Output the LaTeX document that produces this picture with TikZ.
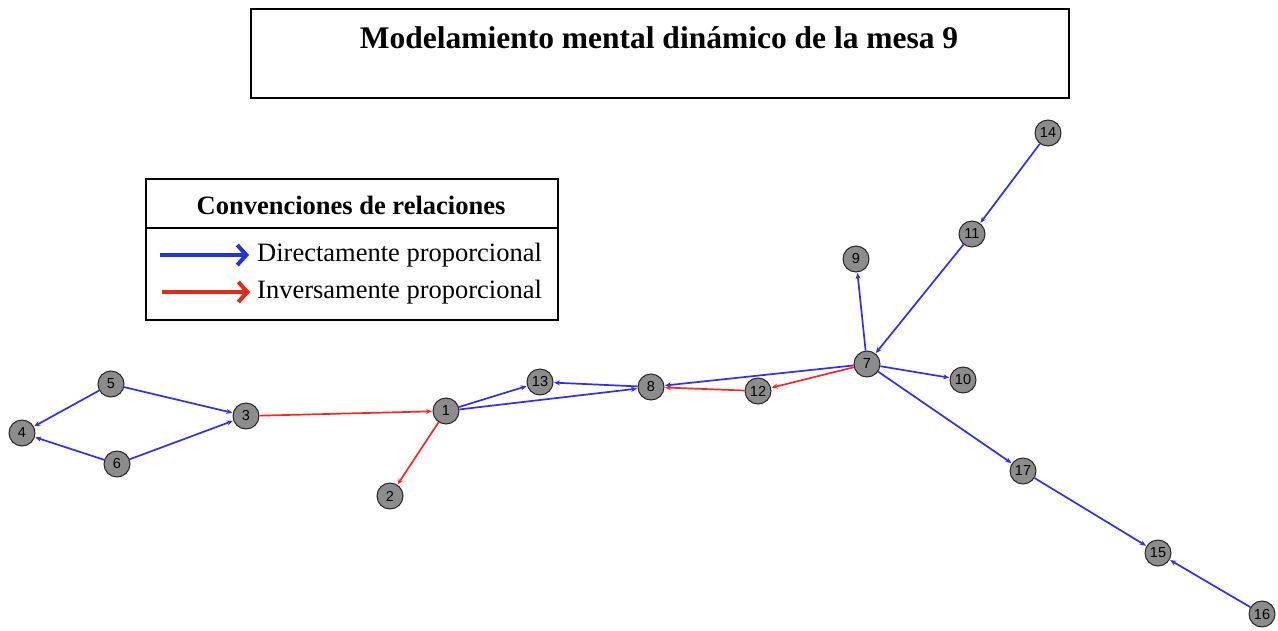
\documentclass[tikz,border=0pt]{standalone}
\usepackage{fontspec}
\setmainfont{Liberation Serif}
\newfontfamily\nodefont{Liberation Sans}
\usetikzlibrary{arrows.meta}
\definecolor{edgeblue}{RGB}{45,45,255}
\definecolor{edgered}{RGB}{255,35,35}
\definecolor{legblue}{RGB}{30,50,230}
\definecolor{legred}{RGB}{230,40,20}
\definecolor{nodegray}{RGB}{140,140,140}
\tikzset{
  vert/.style={circle,draw=black!85,line width=1pt,fill=nodegray,minimum size=26pt,inner sep=0pt,font=\nodefont\fontsize{14.5}{14.5}\selectfont},
  posrel/.style={draw=edgeblue,line width=1.7pt,-{Stealth[length=6pt,width=5pt]},shorten >=0.5pt},
  negrel/.style={draw=edgered,line width=1.7pt,-{Stealth[length=6pt,width=5pt]},shorten >=0.5pt},
  frame/.style={draw=black,line width=2pt}
}
\begin{document}
\begin{tikzpicture}[x=1pt,y=-1pt]
\useasboundingbox (0,0) rectangle (1278,630);
% title
\node[frame,minimum width=818pt,minimum height=89pt,anchor=north west,inner sep=0pt] (titlebox) at (250,8) {};
\node[font=\bfseries\fontsize{31.5}{31.5}\selectfont] (title) at (659,38) {Modelamiento mental dinámico de la mesa 9};
% legend
\node[frame,minimum width=412pt,minimum height=141pt,anchor=north west,inner sep=0pt] (legbox) at (145,178) {};
\coordinate (divl) at (145,228);
\coordinate (divr) at (557,228);
\draw[line width=2.8pt] (divl) -- (divr);
\node[font=\bfseries\fontsize{26.5}{26.5}\selectfont] (leghead) at (351,205) {Convenciones de relaciones};
\coordinate (ba) at (160,255);
\coordinate (bb) at (249,255);
\coordinate (ra) at (162,292);
\coordinate (rb) at (250,292);
\draw[legblue,line width=4pt,-{Straight Barb[length=9pt,width=20pt,line width=4pt]}] (ba) -- (bb);
\draw[legred,line width=4pt,-{Straight Barb[length=9pt,width=20pt,line width=4pt]}] (ra) -- (rb);
\node[anchor=west,font=\fontsize{26.5}{26.5}\selectfont,inner sep=0pt] (legpos) at (257,255) {Directamente proporcional};
\node[anchor=west,font=\fontsize{26.5}{26.5}\selectfont,inner sep=0pt] (legneg) at (257,292) {Inversamente proporcional};
% nodes
\node[vert] (n1) at (446,411) {1};
\node[vert] (n2) at (390,496) {2};
\node[vert] (n3) at (246,416) {3};
\node[vert] (n4) at (22,433) {4};
\node[vert] (n5) at (111,384) {5};
\node[vert] (n6) at (117,464) {6};
\node[vert] (n7) at (867,364) {7};
\node[vert] (n8) at (651,387) {8};
\node[vert] (n9) at (856,259) {9};
\node[vert] (n10) at (963,380) {10};
\node[vert] (n11) at (972,234) {11};
\node[vert] (n12) at (758,391) {12};
\node[vert] (n13) at (540,382) {13};
\node[vert] (n14) at (1048,133) {14};
\node[vert] (n15) at (1158,553) {15};
\node[vert] (n16) at (1262,614) {16};
\node[vert] (n17) at (1023,471) {17};
% edges
\draw[posrel] (n5) -- (n4);
\draw[posrel] (n5) -- (n3);
\draw[posrel] (n6) -- (n4);
\draw[posrel] (n6) -- (n3);
\draw[negrel] (n3) -- (n1);
\draw[negrel] (n1) -- (n2);
\draw[posrel] (n1) -- (n13);
\draw[posrel] (n1) -- (n8);
\draw[posrel] (n8) -- (n13);
\draw[posrel] (n7) -- (n8);
\draw[negrel] (n12) -- (n8);
\draw[negrel] (n7) -- (n12);
\draw[posrel] (n7) -- (n9);
\draw[posrel] (n11) -- (n7);
\draw[posrel] (n14) -- (n11);
\draw[posrel] (n7) -- (n10);
\draw[posrel] (n7) -- (n17);
\draw[posrel] (n17) -- (n15);
\draw[posrel] (n16) -- (n15);
\end{tikzpicture}
\end{document}
